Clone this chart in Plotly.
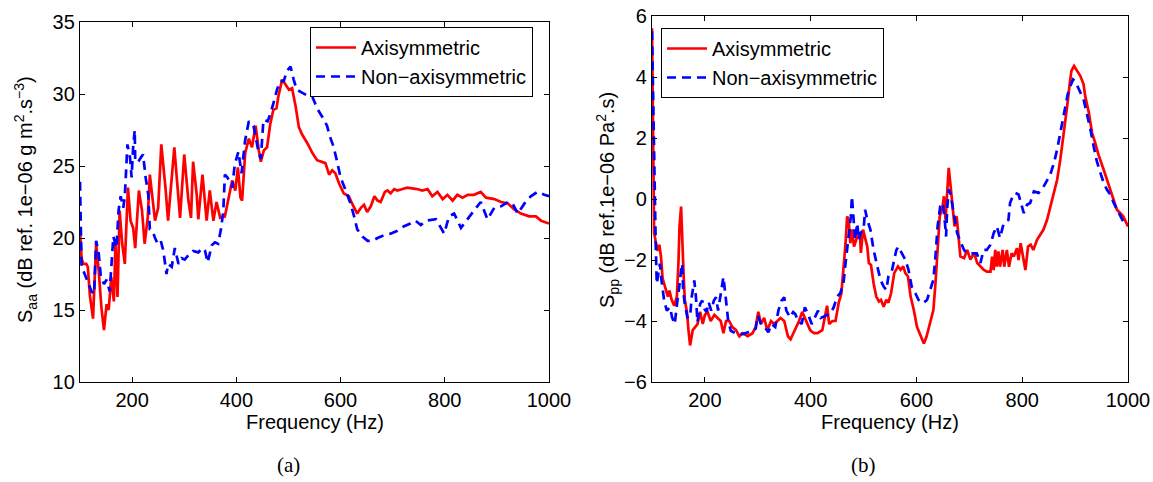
import plotly.graph_objects as go

# ---------------- Panel (a): S_aa ----------------
freq_a_axi = [100, 103, 106, 112, 115, 119, 125, 131, 136, 141, 146, 151, 155, 160, 165, 168, 172, 176, 181, 186,
              192, 197, 202, 206, 213, 219, 224, 230, 234, 238, 244, 250, 256, 264, 269, 281, 288, 292, 300, 308,
              313, 317, 324, 327, 335, 343, 349, 356, 362, 369, 378, 385, 392, 398, 403, 408, 411, 417, 424, 430,
              437, 443, 447, 453, 459, 465, 471, 477, 481, 488, 494, 501, 507, 514, 520, 526, 536, 546, 555, 565,
              571, 578, 584, 590, 597, 606, 616, 622, 632, 639, 645, 651, 658, 665, 671, 677, 685, 690, 696, 703,
              709, 719, 728, 747, 757, 767, 776, 786, 796, 805, 815, 824, 834, 844, 856, 869, 879, 895, 908, 921,
              933, 946, 962, 975, 985, 1000]
saa_axi = [20.5, 18.6, 18.2, 18.2, 18.0, 16.0, 14.4, 19.6, 17.7, 15.2, 13.6, 15.4, 15.0, 17.3, 15.6, 19.6, 15.9, 21.9, 19.6, 18.2,
           23.5, 21.2, 20.7, 19.3, 23.3, 21.9, 19.6, 21.4, 24.4, 23.0, 21.2, 22.1, 26.5, 23.5, 21.2, 26.3, 23.3, 21.4, 25.8, 22.6,
           21.4, 25.3, 23.0, 21.3, 24.4, 21.2, 23.3, 21.2, 22.5, 21.4, 21.5, 22.8, 24.0, 23.3, 24.9, 22.8, 22.6, 25.9, 26.9, 26.3,
           27.8, 26.1, 25.3, 26.1, 26.3, 27.9, 28.9, 29.0, 29.9, 31.0, 30.7, 30.3, 30.4, 29.1, 27.7, 27.2, 26.6, 25.9, 25.4, 25.3,
           25.2, 24.4, 24.7, 24.5, 23.8, 23.1, 22.9, 22.4, 21.7, 22.1, 22.3, 21.8, 22.2, 22.9, 22.6, 22.5, 23.2, 23.3, 23.1, 23.4,
           23.3, 23.4, 23.5, 23.4, 23.3, 23.4, 22.9, 23.2, 22.7, 23.0, 22.6, 23.0, 22.8, 23.0, 23.0, 23.2, 22.8, 22.7, 22.5, 22.4,
           22.0, 21.7, 21.5, 21.5, 21.2, 21.0]

freq_a_non = [100, 103, 109, 115, 122, 127, 131, 136, 140, 146, 151, 157, 160, 164, 170, 174, 178, 183, 186, 191,
              196, 199, 202, 205, 206, 212, 217, 221, 226, 231, 234, 239, 244, 249, 255, 260, 266, 269, 276, 282,
              289, 295, 301, 308, 317, 327, 335, 340, 345, 353, 359, 365, 371, 375, 378, 383, 392, 397, 404, 410,
              417, 424, 433, 438, 443, 447, 452, 460, 466, 473, 478, 484, 491, 497, 504, 510, 516, 526, 536, 546,
              555, 565, 574, 580, 587, 594, 600, 610, 619, 626, 632, 642, 652, 661, 671, 684, 696, 709, 721, 734,
              744, 754, 764, 783, 799, 808, 818, 831, 847, 856, 869, 882, 895, 908, 921, 930, 940, 953, 965, 978,
              991, 1000]
saa_non = [23.9, 18.0, 17.5, 17.0, 16.3, 16.1, 19.8, 18.9, 17.3, 16.8, 17.1, 16.3, 18.2, 20.1, 19.3, 21.9, 22.9, 22.1, 22.9, 26.5,
           25.6, 24.2, 26.3, 27.5, 25.3, 25.3, 25.6, 25.8, 24.2, 23.0, 20.6, 20.5, 20.0, 19.6, 19.8, 19.1, 17.5, 18.2, 18.0, 19.3,
           18.2, 18.6, 18.5, 18.8, 19.1, 19.0, 19.3, 19.1, 18.3, 19.5, 19.7, 19.6, 20.7, 21.9, 24.4, 24.2, 23.5, 25.1, 26.0, 24.5,
           26.8, 28.1, 27.8, 26.8, 25.9, 25.5, 28.2, 28.1, 28.7, 29.6, 30.3, 30.9, 30.9, 31.6, 31.9, 31.0, 30.3, 30.1, 29.9, 29.8,
           29.0, 28.4, 27.8, 27.0, 26.3, 25.2, 24.2, 23.3, 22.4, 21.5, 20.6, 20.1, 19.8, 19.8, 20.0, 20.2, 20.3, 20.5, 20.8, 21.0,
           21.2, 20.9, 21.2, 21.3, 20.3, 21.5, 21.7, 20.7, 21.5, 21.9, 22.5, 21.3, 22.1, 22.2, 22.5, 22.4, 21.7, 22.4, 22.9, 23.2,
           23.0, 22.9]

# ---------------- Panel (b): S_pp ----------------
freq_b_axi = [100, 102, 104, 107, 111, 114, 117, 120, 125, 130, 133, 137, 142, 147, 150, 152, 155, 157, 160, 162,
              166, 169, 172, 177, 181, 186, 191, 196, 200, 205, 211, 218, 224, 230, 235, 240, 246, 252, 259, 265,
              271, 281, 290, 296, 301, 306, 312, 318, 325, 331, 337, 343, 350, 357, 362, 370, 378, 384, 391, 399,
              406, 413, 422, 427, 431, 435, 441, 447, 453, 458, 462, 466, 469, 472, 475, 478, 482, 488, 493, 495,
              499, 503, 507, 510, 514, 519, 524, 529, 533, 538, 543, 547, 552, 558, 565, 570, 575, 579, 584, 589,
              595, 601, 608, 614, 619, 625, 632, 636, 640, 644, 649, 652, 655, 658, 661, 664, 668, 672, 676, 680,
              683, 690, 696, 702, 709, 715, 721, 727, 733, 740, 743, 746, 749, 752, 755, 758, 763, 766, 771, 775,
              780, 784, 790, 793, 797, 802, 806, 811, 816, 821, 828, 834, 840, 847, 853, 860, 866, 872, 879, 885,
              890, 893, 898, 904, 910, 916, 919, 926, 932, 938, 944, 954, 963, 973, 979, 985, 991, 1000]
spp_axi = [5.6, 1.7, -1.1, -1.4, -1.7, -1.5, -1.9, -2.6, -2.9, -3.2, -3.0, -3.3, -3.5, -3.2, -2.1, -0.9, -0.25, -1.5, -2.6, -3.3,
           -3.7, -4.3, -4.8, -4.3, -4.2, -4.1, -3.7, -4.1, -3.8, -3.7, -4.0, -3.8, -3.9, -4.0, -4.4, -4.0, -4.0, -4.2, -4.3, -4.5,
           -4.4, -4.5, -4.4, -4.2, -3.7, -4.1, -3.9, -4.3, -4.0, -4.1, -4.0, -3.9, -4.0, -4.5, -4.6, -4.3, -4.0, -3.7, -4.0, -4.3,
           -4.4, -4.4, -4.3, -3.9, -3.5, -4.1, -4.0, -4.0, -3.4, -3.1, -2.3, -1.45, -0.57, -0.73, -1.45, -1.0, -1.56, -1.23, -1.12, -1.77,
           -1.0, -1.34, -1.56, -2.1, -2.16, -2.76, -3.2, -3.36, -3.31, -3.53, -3.3, -3.4, -3.09, -2.43, -2.21, -2.32, -2.21, -2.43, -2.54, -3.2,
           -3.64, -4.19, -4.46, -4.74, -4.52, -4.08, -3.64, -2.76, -1.56, -0.57, -0.29, 0.09, -0.68, 0.31, 1.02, 0.53, -0.13, -0.9, -0.57, -1.23,
           -1.88, -1.94, -1.67, -1.99, -1.77, -2.1, -2.21, -2.32, -2.38, -2.38, -1.89, -2.33, -1.67, -2.22, -1.72, -2.22, -1.67, -2.22, -1.67, -2.22,
           -1.78, -1.89, -1.61, -2.0, -1.45, -1.89, -2.33, -1.56, -1.5, -1.67, -1.34, -1.17, -1.01, -0.68, -0.24, 0.2, 0.63, 1.29, 2.17, 3.05,
           3.81, 4.2, 4.36, 4.2, 4.03, 3.76, 3.38, 2.83, 2.17, 1.84, 1.46, 0.96, 0.47, -0.02, -0.35, -0.46, -0.57, -0.9]

freq_b_non = [100, 102, 104, 107, 109, 112, 115, 118, 123, 128, 134, 138, 143, 148, 150, 155, 157, 159, 162, 167,
              172, 175, 180, 183, 186, 191, 195, 199, 203, 207, 212, 217, 221, 225, 229, 232, 235, 240, 244, 249,
              255, 262, 271, 280, 290, 296, 300, 306, 313, 320, 326, 333, 339, 345, 350, 354, 361, 367, 371, 376,
              383, 389, 395, 402, 408, 414, 419, 425, 431, 438, 444, 450, 456, 462, 466, 469, 474, 476, 478, 481,
              484, 488, 491, 494, 500, 503, 507, 513, 519, 526, 532, 538, 543, 547, 554, 562, 566, 572, 579, 585,
              591, 598, 604, 612, 620, 626, 632, 636, 640, 645, 650, 654, 656, 658, 661, 664, 668, 672, 677, 682,
              690, 696, 705, 714, 721, 727, 733, 740, 746, 752, 758, 765, 774, 777, 782, 787, 793, 798, 803, 809,
              815, 822, 831, 839, 847, 853, 860, 866, 872, 877, 881, 886, 891, 896, 900, 904, 910, 916, 922, 929,
              935, 941, 948, 954, 960, 967, 973, 979, 985, 991, 1000]
spp_non = [5.5, 3.0, 1.3, -1.46, -2.78, -2.45, -2.12, -2.67, -3.33, -3.66, -3.55, -3.88, -4.1, -3.33, -3.1, -2.34, -2.12, -3.0, -3.44, -3.88,
           -3.88, -3.22, -2.67, -3.2, -4.04, -3.44, -3.33, -3.6, -3.71, -3.38, -3.66, -3.33, -3.22, -3.66, -3.22, -2.78, -2.56, -3.33, -3.99, -4.32,
           -4.37, -4.43, -4.43, -4.37, -4.32, -4.25, -3.82, -4.1, -4.2, -4.37, -4.1, -4.2, -3.66, -3.33, -3.22, -3.66, -3.88, -3.71, -3.77, -3.99,
           -4.1, -3.55, -3.77, -4.1, -3.88, -3.66, -3.9, -3.85, -3.8, -3.75, -3.53, -3.2, -3.09, -2.76, -2.1, -1.67, -1.01, -0.57, 0.09, -0.57,
           -1.34, -0.79, -1.34, -1.12, -1.01, -0.35, -0.68, -1.01, -1.67, -2.21, -2.65, -2.87, -2.98, -2.54, -2.32, -1.67, -1.56, -1.77, -1.99, -2.32,
           -2.87, -3.09, -3.31, -3.42, -3.31, -2.98, -2.65, -1.88, -0.9, -0.24, -0.13, -0.79, -1.23, -0.35, 0.31, 0.2, -0.24, -0.68, -1.12, -1.34,
           -1.67, -1.78, -1.78, -1.78, -2.1, -1.67, -1.67, -1.5, -1.12, -0.9, -1.28, -0.79, -0.68, -0.13, 0.09, 0.2, 0.15, -0.13, -0.46, -0.19,
           -0.13, 0.25, 0.2, 0.36, 0.63, 0.8, 1.18, 1.62, 2.17, 2.61, 3.05, 3.43, 3.7, 3.92, 3.87, 3.7, 3.49, 3.27, 2.83, 2.28,
           1.73, 1.24, 0.85, 0.53, 0.31, 0.14, -0.13, -0.35, -0.57, -0.74, -0.68]

x_ticks = [200, 400, 600, 800, 1000]
ya_ticks = [10, 15, 20, 25, 30, 35]
yb_ticks = [-6, -4, -2, 0, 2, 4, 6]
series_names = ["Axisymmetric", "Non\u2212axisymmetric"]

RED = "rgb(255,0,0)"
BLUE = "rgb(0,0,255)"
LW = 2.7
DASH = "9px,6px"
FONT = "Liberation Sans, Arial, sans-serif"

fig = go.Figure()
fig.add_trace(go.Scatter(x=freq_a_axi, y=saa_axi, mode="lines", name=series_names[0],
                         line=dict(color=RED, width=LW), xaxis="x", yaxis="y", legend="legend"))
fig.add_trace(go.Scatter(x=freq_a_non, y=saa_non, mode="lines", name=series_names[1],
                         line=dict(color=BLUE, width=LW, dash=DASH), xaxis="x", yaxis="y", legend="legend"))
fig.add_trace(go.Scatter(x=freq_b_axi, y=spp_axi, mode="lines", name=series_names[0],
                         line=dict(color=RED, width=LW), xaxis="x2", yaxis="y2", legend="legend2"))
fig.add_trace(go.Scatter(x=freq_b_non, y=spp_non, mode="lines", name=series_names[1],
                         line=dict(color=BLUE, width=LW, dash=DASH), xaxis="x2", yaxis="y2", legend="legend2"))

W, H = 1153, 482
axis_common = dict(showline=True, linecolor="black", linewidth=1.2, mirror="ticks", ticks="inside",
                   ticklen=5, tickwidth=1, tickcolor="black", showgrid=False, zeroline=False,
                   automargin=False,
                   tickfont=dict(family=FONT, size=20, color="black"))

legend_common = dict(xanchor="left", yanchor="top", bgcolor="white", bordercolor="black", borderwidth=1,
                     font=dict(family=FONT, size=20, color="black"), tracegroupgap=0, itemwidth=40)

fig.update_layout(
    width=W, height=H, autosize=False,
    margin=dict(l=0, r=0, t=0, b=0, autoexpand=False),
    paper_bgcolor="white", plot_bgcolor="white",
    font=dict(family=FONT, size=20, color="black"),
    xaxis=dict(domain=[80 / W, 549 / W], range=[100, 1000], tickvals=x_ticks, anchor="y", **axis_common),
    yaxis=dict(domain=[100 / H, 460 / H], range=[10, 35], tickvals=ya_ticks, anchor="x", **axis_common),
    xaxis2=dict(domain=[652 / W, 1128 / W], range=[100, 1000], tickvals=x_ticks, anchor="y2", **axis_common),
    yaxis2=dict(domain=[100 / H, 466 / H], range=[-6, 6], tickvals=yb_ticks, anchor="x2", **axis_common),
    legend=dict(x=310 / W, y=1 - 27 / H, **legend_common),
    legend2=dict(x=661 / W, y=1 - 28 / H, **legend_common),
    showlegend=True,
    hovermode=False,
)

annots = [
    dict(text="Frequency (Hz)", x=315 / W, y=1 - 422 / H),
    dict(text="Frequency (Hz)", x=890 / W, y=1 - 422 / H),
    dict(text="S<sub>aa</sub> (dB ref. 1e\u221206 g m<sup>2</sup>.s<sup>\u22123</sup>)", x=25 / W, y=1 - 200 / H,
         textangle=-90),
    dict(text="S<sub>pp</sub> (dB ref.1e\u221206 Pa<sup>2</sup>.s)", x=607 / W, y=1 - 200 / H, textangle=-90),
]
for a in annots:
    fig.add_annotation(xref="paper", yref="paper", xanchor="center", yanchor="middle", showarrow=False,
                       font=dict(family=FONT, size=20, color="black"), **a)
for txt, xc in [("(a)", 288), ("(b)", 863)]:
    fig.add_annotation(text=txt, x=xc / W, y=1 - 465 / H, xref="paper", yref="paper", showarrow=False,
                       xanchor="center", yanchor="middle",
                       font=dict(family="Liberation Serif, DejaVu Serif, serif", size=21, color="black"))

fig.write_html("out.html",
               config={"displayModeBar": False, "staticPlot": True},
               post_script="document.body.style.margin='0';document.body.style.padding='0';"
                           "document.documentElement.style.overflow='hidden';")
